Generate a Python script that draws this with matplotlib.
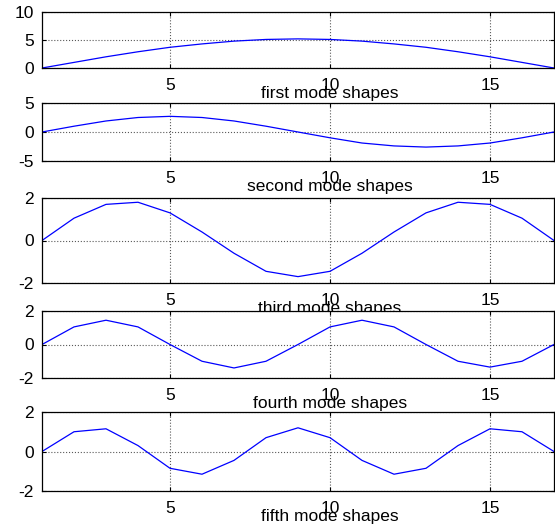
# mode shapes of a 17-point string, five subplots (MATLAB look)
import matplotlib
matplotlib.use("Agg")
import matplotlib.pyplot as plt
import matplotlib.transforms as mtransforms

plt.rcParams['font.family'] = ['Liberation Sans', 'DejaVu Sans']
plt.rcParams['axes.unicode_minus'] = False

x = list(range(1, 18))

mode1 = [0, 1.0, 2.0, 2.9, 3.7, 4.3, 4.8, 5.1, 5.2, 5.1, 4.8, 4.3, 3.7, 2.9, 2.0, 1.0, 0]
mode2 = [0, 1.0, 1.9, 2.5, 2.7, 2.5, 1.9, 1.0, 0, -1.0, -1.9, -2.4, -2.6, -2.4, -1.9, -1.0, 0]
mode3 = [0, 1.05, 1.7, 1.8, 1.3, 0.4, -0.6, -1.45, -1.7, -1.45, -0.6, 0.4, 1.3, 1.8, 1.7, 1.05, 0]
mode4 = [0, 1.05, 1.45, 1.05, 0, -1.0, -1.4, -1.0, 0, 1.05, 1.45, 1.05, 0, -1.0, -1.35, -1.0, 0]
mode5 = [0, 1.0, 1.15, 0.3, -0.85, -1.15, -0.45, 0.7, 1.2, 0.7, -0.45, -1.15, -0.85, 0.3, 1.15, 1.0, 0]

modes = [mode1, mode2, mode3, mode4, mode5]
titles = ["first mode shapes", "second mode shapes", "third mode shapes",
          "fourth mode shapes", "fifth mode shapes"]
ylims = [(0, 10), (-5, 5), (-2, 2), (-2, 2), (-2, 2)]
yticks = [[0, 5, 10], [-5, 0, 5], [-2, 0, 2], [-2, 0, 2], [-2, 0, 2]]
xticks = [5, 10, 15]

W, H = 555, 531
fig = plt.figure(figsize=(W / 100, H / 100), dpi=100)

# panel edges in pixels (top, bottom)
boxes = [(12, 68), (103, 161), (198, 283), (311, 378), (412, 491)]
left, right = 42, 554

for i in range(5):
    top, bot = boxes[i]
    ax = fig.add_axes([left / W, 1 - bot / H, (right - left) / W, (bot - top) / H])
    ax.plot(x, modes[i], color='#0000ff', lw=0.9)
    ax.set_xlim(1, 17)
    ax.set_ylim(*ylims[i])
    ax.set_xticks(xticks)
    ax.set_yticks(yticks[i])
    ax.tick_params(direction='in', top=True, right=True, length=3, width=0.8,
                   labelsize=12.5, pad=6)
    ax.tick_params(axis='x', pad=7)
    ax.grid(True, color='0.35', linestyle=':', linewidth=0.8)
    for s in ax.spines.values():
        s.set_linewidth(0.9)
    # the label sits under the tick numbers, partly hidden by the next panel
    tr = mtransforms.blended_transform_factory(ax.transData, ax.transAxes)
    lab_y = -(30 / (bot - top))
    ax.text(10, lab_y, titles[i], transform=tr, ha='center', va='baseline',
            fontsize=12.5, clip_on=False)

fig.savefig("out.png", dpi=100)
